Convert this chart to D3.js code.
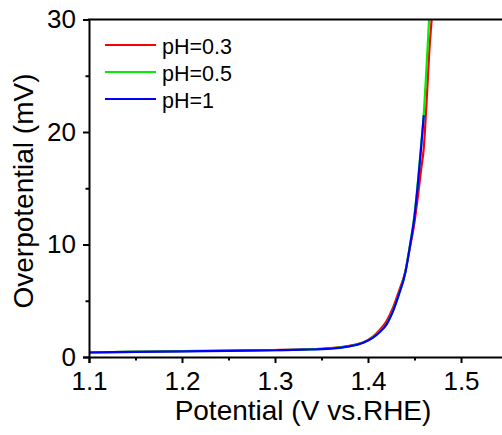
<!DOCTYPE html>
<html><head><meta charset="utf-8">
<script src="https://cdn.jsdelivr.net/npm/d3@7"></script>
<style>
html,body{margin:0;padding:0;background:#fff;}
svg{display:block;font-family:"Liberation Sans",Arial,sans-serif;}
</style></head>
<body>
<svg id="chart" width="502" height="435"></svg>
<script>
const potential = [1.10,1.15,1.20,1.25,1.30,1.33,1.36,1.38,1.395,1.405,1.413,1.42,1.427,1.433,1.44,1.445,1.45,1.454,1.457,1.46,1.463,1.466,1.469];
const pH03 = [0.41,0.46,0.52,0.57,0.62,0.68,0.80,1.00,1.32,1.80,2.45,3.20,4.40,5.80,7.55,9.70,12.0,14.5,16.6,18.6,22.7,27.3,30.5];
const pH05 = [0.42,0.47,0.52,0.56,0.61,0.66,0.76,0.96,1.28,1.72,2.30,2.95,4.15,5.55,7.50,9.90,12.65,15.9,18.7,21.6,25.9,30.5,null];
const pH1  = [0.40,0.45,0.50,0.55,0.60,0.65,0.75,0.95,1.27,1.70,2.25,2.90,4.10,5.50,7.45,9.80,12.5,15.7,18.5,21.5,null,null,null];
const seriesNames = ["pH=0.3","pH=0.5","pH=1"];
const seriesColors = ["#ff0000","#00ee00","#0000ff"];
const xTicks = [1.1,1.2,1.3,1.4,1.5];
const xMinor = [1.15,1.25,1.35,1.45];
const yTicks = [0,10,20,30];
const yMinor = [5,15,25];
const xTitle = "Potential (V vs.RHE)";
const yTitle = "Overpotential (mV)";

const svg = d3.select("#chart");
const x = d3.scaleLinear().domain([1.1,1.55]).range([89,507.5]);
const y = d3.scaleLinear().domain([0,30]).range([357,19.5]);

svg.append("clipPath").attr("id","clip").append("rect")
  .attr("x",89).attr("y",19.5).attr("width",418.5).attr("height",337.5);

const allSeries = [pH03,pH05,pH1];
const line = d3.line()
  .defined(d => d[1] != null)
  .x(d => x(d[0])).y(d => y(d[1]))
  .curve(d3.curveMonotoneX);
const g = svg.append("g").attr("clip-path","url(#clip)");
allSeries.forEach((s,i) => {
  g.append("path")
    .datum(potential.map((p,j) => [p, s[j]]))
    .attr("fill","none").attr("stroke",seriesColors[i])
    .attr("stroke-width",2.2).attr("stroke-linejoin","round")
    .attr("d", line);
});

// frame top / right
svg.append("line").attr("x1",88).attr("x2",510).attr("y1",19.5).attr("y2",19.5)
  .attr("stroke","#000").attr("stroke-width",2);
svg.append("line").attr("x1",507.5).attr("x2",507.5).attr("y1",19.5).attr("y2",357)
  .attr("stroke","#000").attr("stroke-width",2);

// bottom axis
svg.append("g").attr("transform","translate(0,357)")
  .call(d3.axisBottom(x).tickValues(xTicks).tickFormat(d3.format(".1f")).tickSize(6).tickPadding(9));
svg.append("g").attr("transform","translate(0,357)")
  .call(d3.axisBottom(x).tickValues(xMinor).tickFormat("").tickSize(3.5))
  .select(".domain").remove();
// left axis
svg.append("g").attr("transform","translate(89,0)")
  .call(d3.axisLeft(y).tickValues(yTicks).tickFormat(d3.format("d")).tickSize(6).tickPadding(7));
svg.append("g").attr("transform","translate(89,0)")
  .call(d3.axisLeft(y).tickValues(yMinor).tickFormat("").tickSize(3.5))
  .select(".domain").remove();

svg.selectAll(".domain").attr("stroke-width",2).attr("stroke","#000");
svg.selectAll(".tick line").attr("stroke-width",2).attr("stroke","#000");
svg.selectAll(".tick text").attr("font-size",26).attr("fill","#000")
  .attr("font-family","'Liberation Sans',Arial,sans-serif");

// titles
svg.append("text").attr("x",303).attr("y",420).attr("text-anchor","middle")
  .attr("font-size",28).attr("fill","#000").text(xTitle);
svg.append("text").attr("transform","translate(33,191) rotate(-90)")
  .attr("text-anchor","middle").attr("font-size",28).attr("fill","#000").text(yTitle);

// legend
const leg = svg.append("g");
seriesNames.forEach((n,i) => {
  const ly = 45 + i*27;
  leg.append("line").attr("x1",105).attr("x2",156).attr("y1",ly).attr("y2",ly)
    .attr("stroke",seriesColors[i]).attr("stroke-width",2.2);
  leg.append("text").attr("x",162).attr("y",ly+8.5).attr("font-size",21.5)
    .attr("fill","#000").text(n);
});
</script>
</body></html>
